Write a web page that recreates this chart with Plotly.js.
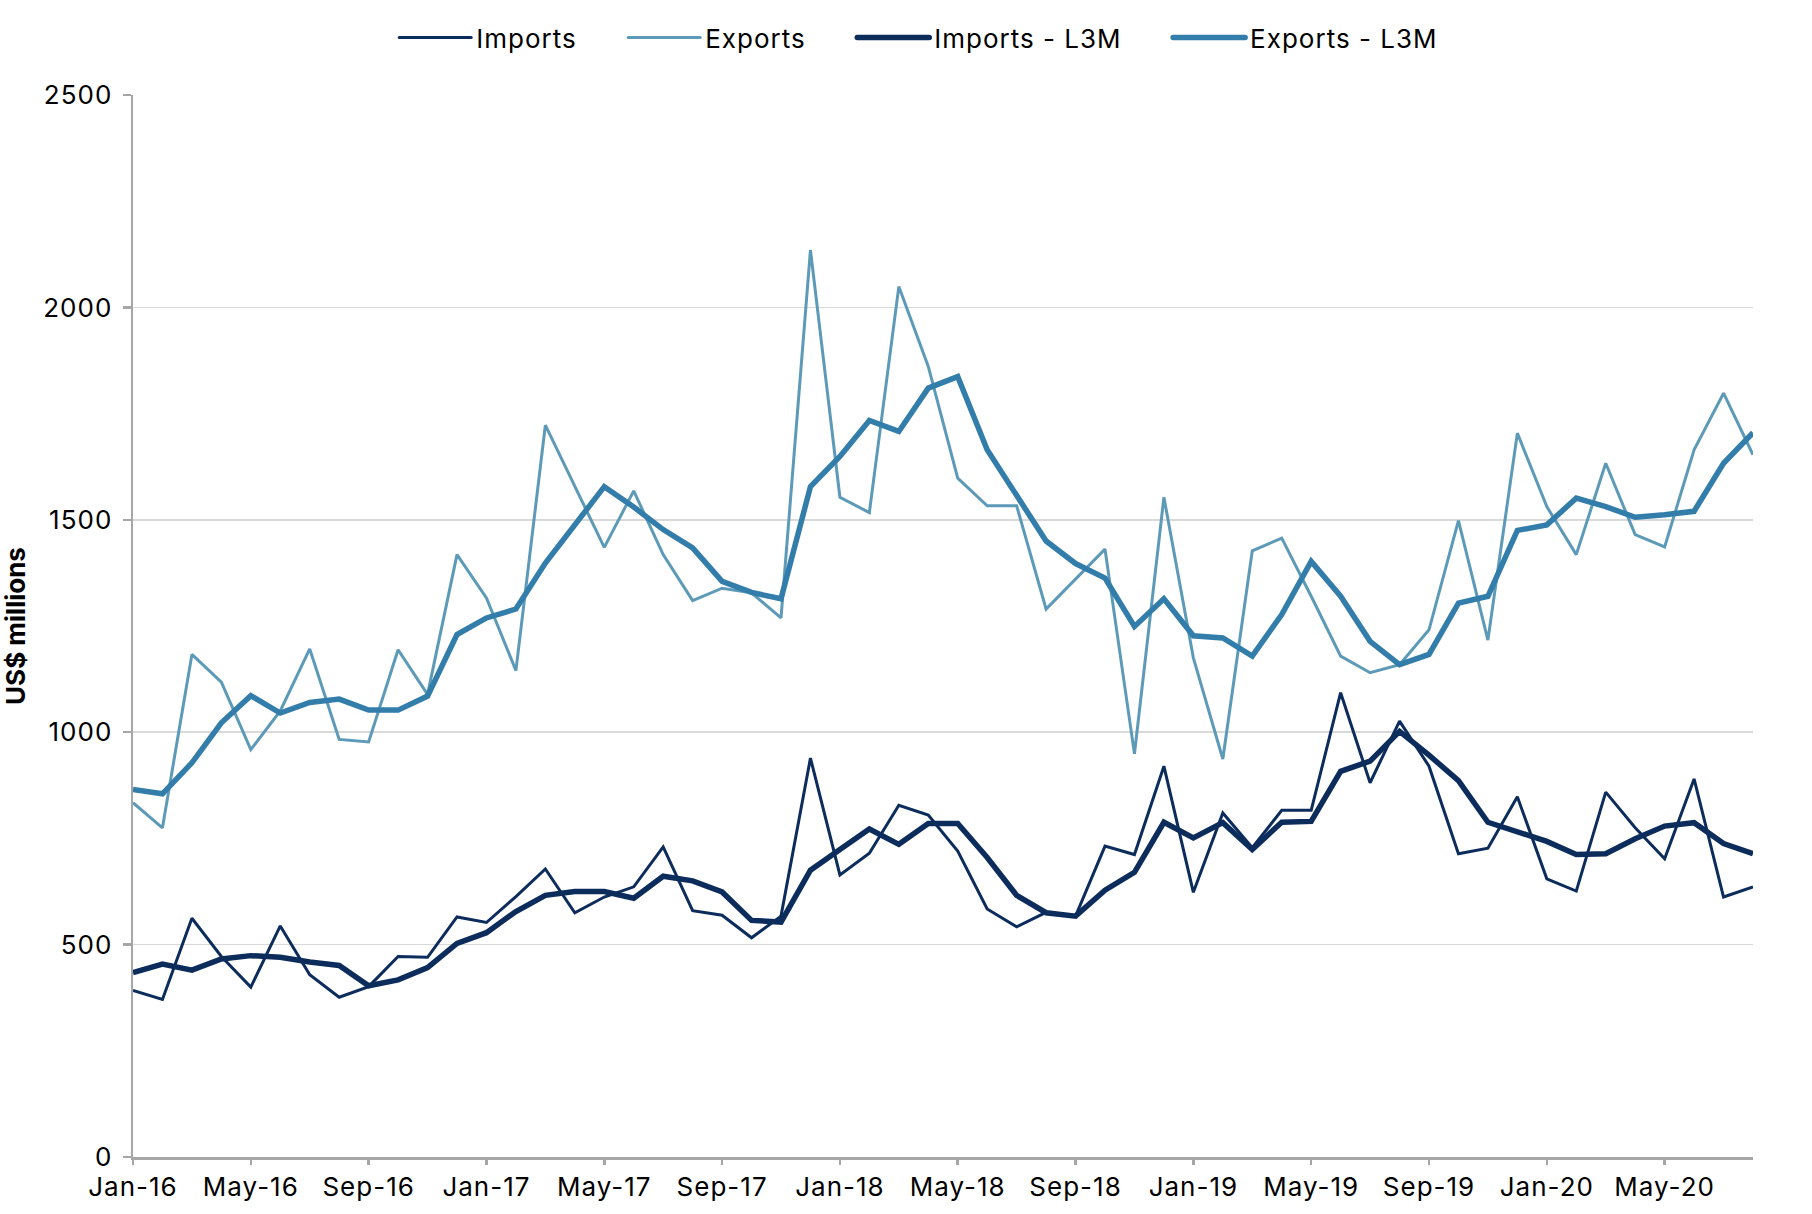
<!DOCTYPE html>
<html>
<head>
<meta charset="utf-8">
<script src="https://cdn.plot.ly/plotly-3.0.1.min.js"></script>
<style>
html,body{margin:0;padding:0;background:#fff;}
#chart{width:1812px;height:1214px;}
#chart .xtick text, #chart .ytick text { letter-spacing: 1px; }
.legendtext { letter-spacing: 1px; }
</style>
</head>
<body>
<div id="chart"></div>
<script>
const months = ["Jan-16","Feb-16","Mar-16","Apr-16","May-16","Jun-16","Jul-16","Aug-16","Sep-16","Oct-16","Nov-16","Dec-16",
"Jan-17","Feb-17","Mar-17","Apr-17","May-17","Jun-17","Jul-17","Aug-17","Sep-17","Oct-17","Nov-17","Dec-17",
"Jan-18","Feb-18","Mar-18","Apr-18","May-18","Jun-18","Jul-18","Aug-18","Sep-18","Oct-18","Nov-18","Dec-18",
"Jan-19","Feb-19","Mar-19","Apr-19","May-19","Jun-19","Jul-19","Aug-19","Sep-19","Oct-19","Nov-19","Dec-19",
"Jan-20","Feb-20","Mar-20","Apr-20","May-20","Jun-20","Jul-20","Aug-20"];

const imports = [392,371,562,472,400,544,429,376,401,472,470,565,
552,613,678,575,612,636,730,580,569,516,567,939,
664,715,828,805,720,584,542,576,567,732,712,920,
623,810,728,816,816,1093,881,1026,920,714,727,848,
655,626,859,775,702,890,612,636];

const exports_ = [834,775,1183,1118,959,1050,1196,983,977,1194,1089,1418,
1316,1145,1723,1578,1435,1568,1418,1310,1339,1328,1269,2135,
1553,1517,2049,1861,1598,1533,1533,1290,1361,1431,949,1553,
1175,937,1427,1457,1320,1179,1140,1159,1241,1498,1217,1704,
1531,1418,1633,1465,1436,1665,1798,1653];

const importsL3M = [434,454,440,466,474,470,459,451,403,417,446,503,
528,578,616,625,625,609,661,650,624,557,553,675,
724,772,736,785,785,705,616,575,567,628,670,788,
751,787,724,788,790,908,932,1002,946,886,788,767,
743,712,714,749,779,787,738,714];

const exportsL3M = [865,855,928,1022,1086,1045,1070,1078,1052,1052,1085,1230,
1269,1290,1398,1488,1578,1530,1477,1434,1355,1329,1314,1578,
1649,1734,1708,1810,1837,1665,1555,1450,1397,1363,1249,1314,
1227,1222,1179,1277,1402,1320,1214,1159,1183,1304,1320,1475,
1488,1551,1531,1506,1512,1520,1633,1705];

const seriesNames = ["Imports", "Exports", "Imports - L3M", "Exports - L3M"];

const tickLabels = months.filter((m, i) => i % 4 === 0);

const navy = "#0c2c5c";
const lightBlue = "#5d9ab8";
const midBlue = "#337dab";

const gap = "\u00a0\u00a0\u00a0\u00a0\u00a0";

const traces = [
  {x: months, y: imports, name: seriesNames[0] + gap, type: "scatter", mode: "lines",
   line: {color: navy, width: 3}},
  {x: months, y: exports_, name: seriesNames[1] + gap, type: "scatter", mode: "lines",
   line: {color: lightBlue, width: 3}},
  {x: months, y: importsL3M, name: seriesNames[2] + gap, type: "scatter", mode: "lines",
   line: {color: navy, width: 5.5}},
  {x: months, y: exportsL3M, name: seriesNames[3], type: "scatter", mode: "lines",
   line: {color: midBlue, width: 5.5}}
];

const fam = "Inter, 'Liberation Sans', sans-serif";

const layout = {
  width: 1812, height: 1214,
  margin: {l: 133, r: 59, t: 95, b: 57},
  paper_bgcolor: "#fff", plot_bgcolor: "#fff",
  font: {family: fam, size: 26, color: "#000"},
  showlegend: true,
  legend: {orientation: "h", x: 0.485, xanchor: "center", y: 1.054, yanchor: "middle",
           font: {family: fam, size: 26, color: "#000"}, itemwidth: 72, tracegroupgap: 0},
  xaxis: {
    type: "category",
    range: [0, 55],
    tickmode: "array", tickvals: tickLabels, ticktext: tickLabels,
    ticks: "outside", ticklen: 5, tickwidth: 2.5, tickcolor: "#a6a6a6",
    showline: true, linecolor: "#a6a6a6", linewidth: 2.5,
    showgrid: false, zeroline: false,
    tickfont: {family: fam, size: 26, color: "#000"}
  },
  yaxis: {
    range: [0, 2500], dtick: 500, tick0: 0,
    ticks: "outside", ticklen: 8, tickwidth: 2.5, tickcolor: "#a6a6a6",
    showline: true, linecolor: "#a6a6a6", linewidth: 2.5,
    showgrid: true, gridcolor: "#d9d9d9", gridwidth: 1.5,
    zeroline: false,
    ticklabelstandoff: 5,
    tickfont: {family: fam, size: 26, color: "#000"},
    title: {text: "<b>US$ millions</b>", font: {family: fam, size: 26, color: "#000"}, standoff: 20}
  }
};

Plotly.newPlot("chart", traces, layout, {displayModeBar: false, staticPlot: true}).then(() => {
  document.querySelectorAll("#chart .legendlines path").forEach(p => {
    p.style.strokeLinecap = "round";
  });
});
</script>
</body>
</html>
